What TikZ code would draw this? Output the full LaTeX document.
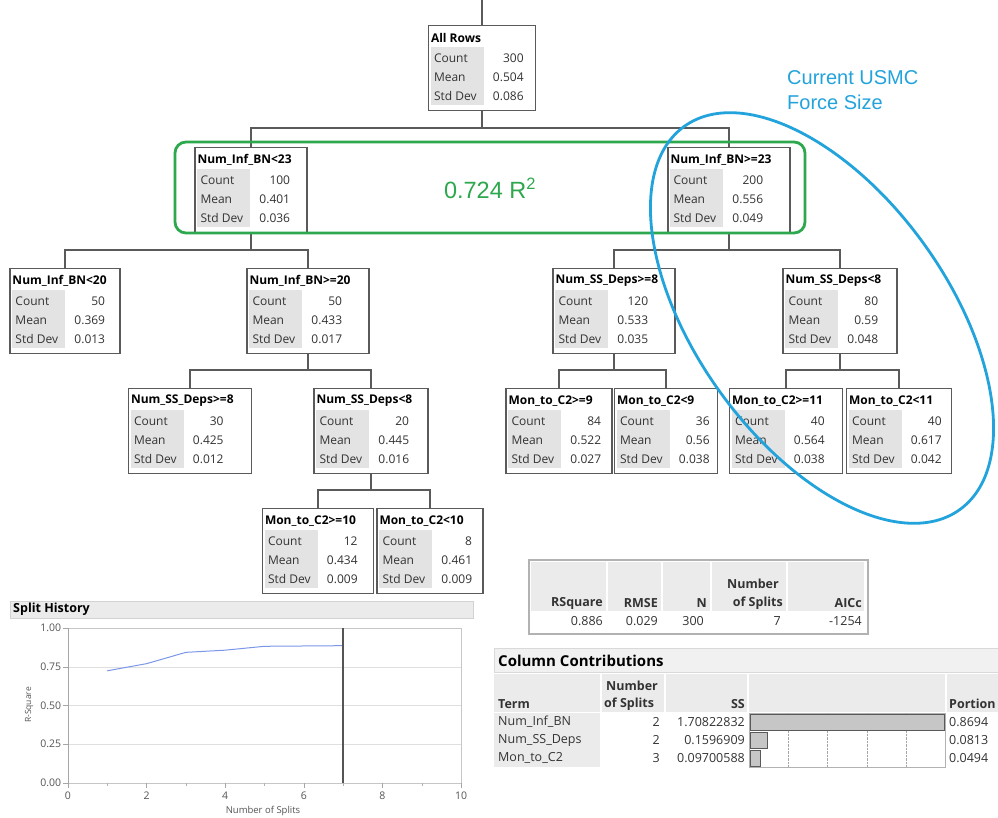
\documentclass[tikz,border=0pt]{standalone}
\usepackage{fontspec}
\setmainfont{Open Sans}
\newfontfamily\arialf{Liberation Sans}
\usetikzlibrary{calc}
\definecolor{boxline}{HTML}{5A5A5A}
\definecolor{lblgray}{HTML}{E3E3E3}
\definecolor{hdrgray}{HTML}{EBEBEB}
\definecolor{jgreen}{HTML}{2EA84E}
\definecolor{jblue}{HTML}{22A3DC}
\definecolor{plotblue}{HTML}{7B97E8}
\definecolor{txtgray}{HTML}{333333}
\definecolor{axgray}{HTML}{555555}
\tikzset{
  jbx/.style={draw=boxline, line width=1.4pt, minimum height=85pt, inner sep=0pt, anchor=north, fill=white},
  conn/.style={draw=boxline, line width=1.2pt},
  ttl/.style={anchor=west, inner sep=0pt, font=\fontsize{12}{14}\selectfont\bfseries, text=black},
  lbl/.style={anchor=west, inner sep=0pt, font=\fontsize{12}{14}\selectfont, text=txtgray},
  val/.style={anchor=east, inner sep=0pt, font=\fontsize{12}{14}\selectfont, text=txtgray},
  hdr/.style={anchor=east, inner sep=0pt, font=\fontsize{12.5}{14}\selectfont\bfseries, text=txtgray},
  hdrw/.style={anchor=west, inner sep=0pt, font=\fontsize{12.5}{14}\selectfont\bfseries, text=txtgray},
  cell/.style={anchor=east, inner sep=0pt, font=\fontsize{12.5}{14}\selectfont, text=txtgray},
  cellw/.style={anchor=west, inner sep=0pt, font=\fontsize{12.5}{14}\selectfont, text=txtgray},
  tick/.style={inner sep=0pt, font=\fontsize{10.5}{12}\selectfont, text=axgray},
}
\newcommand\jmpbox[8]{%
  \node[jbx, minimum width=#4pt] (#1) at (#2,#3) {};
  \fill[lblgray] ($(#1.north west)+(3,22)$) rectangle ($(#1.south west)+(56,-6)$);
  \node[ttl] (#1-t) at ($(#1.north west)+(3,13)$) {#5};
  \node[lbl] (#1-c) at ($(#1.north west)+(6,33)$) {Count};
  \node[val] (#1-cv) at ($(#1.north west)+(96,33)$) {#6};
  \node[lbl] (#1-m) at ($(#1.north west)+(6,52)$) {Mean};
  \node[val] (#1-mv) at ($(#1.north west)+(96,52)$) {#7};
  \node[lbl] (#1-s) at ($(#1.north west)+(6,71)$) {Std Dev};
  \node[val] (#1-sv) at ($(#1.north west)+(96,71)$) {#8};
}
\begin{document}
\begin{tikzpicture}[x=1pt,y=-1pt]
\clip (0,0) rectangle (998,818);
\fill[white] (0,0) rectangle (998,818);

% ---------- tree ----------
\jmpbox{root}{482}{25}{107}{All Rows}{300}{0.504}{0.086}
\jmpbox{n1a}{251}{147}{112}{Num\_Inf\_BN<23}{100}{0.401}{0.036}
\jmpbox{n1b}{729}{147}{122}{Num\_Inf\_BN>=23}{200}{0.556}{0.049}
\jmpbox{n2a}{65}{268}{110}{Num\_Inf\_BN<20}{50}{0.369}{0.013}
\jmpbox{n2b}{308}{268}{122}{Num\_Inf\_BN>=20}{50}{0.433}{0.017}
\jmpbox{n2c}{614}{268}{122}{Num\_SS\_Deps>=8}{120}{0.533}{0.035}
\jmpbox{n2d}{840}{268}{114}{Num\_SS\_Deps<8}{80}{0.59}{0.048}
\jmpbox{n3a}{190}{388}{123}{Num\_SS\_Deps>=8}{30}{0.425}{0.012}
\jmpbox{n3b}{371}{388}{114}{Num\_SS\_Deps<8}{20}{0.445}{0.016}
\jmpbox{n3c}{559}{388}{106}{Mon\_to\_C2>=9}{84}{0.522}{0.027}
\jmpbox{n3d}{666}{388}{103}{Mon\_to\_C2<9}{36}{0.56}{0.038}
\jmpbox{n3e}{786}{388}{113}{Mon\_to\_C2>=11}{40}{0.564}{0.038}
\jmpbox{n3f}{899}{388}{105}{Mon\_to\_C2<11}{40}{0.617}{0.042}
\jmpbox{n4a}{318}{508}{111}{Mon\_to\_C2>=10}{12}{0.434}{0.009}
\jmpbox{n4b}{430}{508}{106}{Mon\_to\_C2<10}{8}{0.461}{0.009}

\coordinate (topin) at (482,0);
\draw[conn] (topin) -- (root.north);
\draw[conn] (root.south) -- ++(0,18);
\draw[conn] (n1a.north) -- ++(0,-19) -| (n1b.north);
\draw[conn] (n1a.south) -- ++(0,18);
\draw[conn] (n2a.north) -- ++(0,-18) -| (n2b.north);
\draw[conn] (n1b.south) -- ++(0,18);
\draw[conn] (n2c.north) -- ++(0,-18) -| (n2d.north);
\draw[conn] (n2b.south) -- ++(0,17);
\draw[conn] (n3a.north) -- ++(0,-18) -| (n3b.north);
\draw[conn] (n2c.south) -- ++(0,17);
\draw[conn] (n3c.north) -- ++(0,-18) -| (n3d.north);
\draw[conn] (n2d.south) -- ++(0,17);
\draw[conn] (n3e.north) -- ++(0,-18) -| (n3f.north);
\draw[conn] (n3b.south) -- ++(0,17);
\draw[conn] (n4a.north) -- ++(0,-18) -| (n4b.north);

% ---------- annotations ----------
\draw[jgreen, line width=2.8pt, rounded corners=11pt] (175,142) rectangle (805,233);
\node[text=jgreen, inner sep=0pt, font=\arialf\fontsize{23.5}{26}\selectfont] (rsq) at (490,188) {0.724 R\textsuperscript{2}};
\draw[jblue, line width=2.8pt, rotate around={-54.3:(822,318)}] (822,318) ellipse [x radius=236pt, y radius=126pt];
\node[anchor=west, align=left, inner sep=0pt, text=jblue, font=\arialf\fontsize{20}{25}\selectfont] (usmc) at (787,90) {Current USMC\\Force Size};

% ---------- summary table ----------
\node[draw=gray!60, line width=1.5pt, minimum width=339pt, minimum height=74pt, anchor=north west, inner sep=0pt] (sumtab) at (528,559) {};
\foreach \a/\b in {531/606, 608/661, 663/710, 712/786, 788/864} \fill[hdrgray] (\a,562) rectangle (\b,611);
\node[hdr] (hrsq) at (603,603) {RSquare};
\node[hdr] (hrmse) at (658,603) {RMSE};
\node[hdr] (hn) at (707,603) {N};
\node[hdr] (hnum) at (779,584) {Number};
\node[hdr] (hofs) at (783,603) {of Splits};
\node[hdr] (haicc) at (862,603) {AICc};
\node[cell] (vrsq) at (603,621) {0.886};
\node[cell] (vrmse) at (658,621) {0.029};
\node[cell] (vn) at (704,621) {300};
\node[cell] (vnum) at (781,621) {7};
\node[cell] (vaicc) at (862,621) {-1254};

% ---------- column contributions ----------
\node[draw=gray!30, fill=hdrgray!70, minimum width=510pt, minimum height=24pt, anchor=north west, inner sep=0pt] (ccbar) at (494,648) {};
\node[anchor=west, inner sep=0pt, font=\fontsize{15}{17}\selectfont\bfseries] (cctitle) at (498,661) {Column Contributions};
\foreach \a/\b in {494/600, 602/664, 666/747, 749/945, 947/1000} \fill[hdrgray] (\a,674) rectangle (\b,712);
\fill[hdrgray] (494,713) rectangle (600,767);
\node[hdrw] (cterm) at (498,704) {Term};
\node[hdrw] (cnum) at (606,686) {Number};
\node[hdrw] (cofs) at (604,704) {of Splits};
\node[hdr] (css) at (745,704) {SS};
\node[hdrw] (cport) at (949,704) {Portion};
\draw[gray!60] (749,713) rectangle (945,767);
\foreach \x [count=\i] in {788,827,867,906} {
  \draw[gray!70, densely dotted] (\x,731) -- (\x,767);
  \draw[gray!70] (\x,713) -- (\x,716);
}
\filldraw[fill=gray!45, draw=gray!70!black] (750,714.5) rectangle (944,730);
\filldraw[fill=gray!45, draw=gray!70!black] (750,732.5) rectangle (767,748);
\filldraw[fill=gray!45, draw=gray!70!black] (750,750.5) rectangle (760,766);
\foreach \t/\n/\s/\p/\y [count=\i] in {Num\_Inf\_BN/2/1.70822832/0.8694/722, Num\_SS\_Deps/2/0.1596909/0.0813/740, Mon\_to\_C2/3/0.09700588/0.0494/758} {
  \node[cellw] (ct\i) at (498,\y) {\t};
  \node[cell] (cn\i) at (660,\y) {\n};
  \node[cell] (cs\i) at (745,\y) {\s};
  \node[cellw] (cp\i) at (949,\y) {\p};
}

% ---------- split history ----------
\node[draw=gray!35, fill=hdrgray, minimum width=463pt, minimum height=17pt, anchor=north west, inner sep=0pt] (shbar) at (10,601) {};
\node[anchor=west, inner sep=0pt, font=\fontsize{12.5}{14}\selectfont\bfseries] (shtitle) at (13,609.5) {Split History};
\begin{scope}[shift={(68,783)}, x=39.3pt, y=155pt]
  \foreach \v in {0.25,0.5,0.75,1} \draw[gray!25] (0,\v) -- (10,\v);
  \draw[gray!45] (0,0) rectangle (10,1);
  \draw[gray!70] (0,0) -- (0,1);
  \foreach \v/\t [count=\i] in {0/0.00,0.25/0.25,0.5/0.50,0.75/0.75,1/1.00} {
    \draw[gray!70] (-0.12,\v) -- (0,\v);
    \node[tick, anchor=east] (yl\i) at (-0.17,\v) {\t};
  }
  \foreach \u [count=\i] in {0,2,4,6,8,10} {
    \draw[gray!70] (\u,0) -- (\u,-0.03);
    \node[tick, anchor=north] (xl\i) at (\u,-0.055) {\u};
  }
  \foreach \u in {1,3,5,7,9} \draw[gray!60] (\u,0) -- (\u,-0.02);
  \draw[plotblue, line width=1pt] (1,0.724) -- (2,0.770) -- (3,0.843) -- (4,0.857) -- (5,0.882) -- (6,0.884) -- (7,0.886);
  \draw[axgray, line width=1.8pt] (7,0) -- (7,1);
\end{scope}
\node[tick, rotate=90, font=\fontsize{8.5}{10}\selectfont] (ylab) at (29,705) {R-Square};
\node[tick, font=\fontsize{9.5}{11}\selectfont] (xlab) at (263,811) {Number of Splits};
\end{tikzpicture}
\end{document}
